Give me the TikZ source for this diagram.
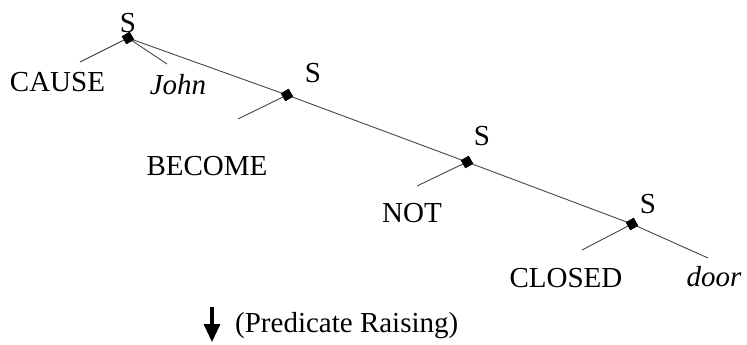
\documentclass[tikz,border=0pt]{standalone}
\usepackage{fontspec}
\setmainfont{Liberation Serif}
\usepackage{tikz}
\usetikzlibrary{arrows.meta}

\begin{document}
\begin{tikzpicture}[x=1pt,y=-1pt,font=\fontsize{29}{34}\selectfont,
  br/.style={draw=gray!55!black,line width=0.9pt},
  knot/.style={rectangle,fill=black,rotate=30,minimum size=9pt,inner sep=0pt},
  lab/.style={anchor=base,inner sep=0pt}]
\useasboundingbox (0,0) rectangle (747,345);
\foreach \n/\x/\y in {s1/128/38,s2/287/95,s3/467/162,s4/632/224}
  \node[knot] (\n) at (\x,\y) {};
\foreach \n/\x/\y in {1/128/33,2/313/83,3/482/145,4/648/213}
  \node[lab] (l\n) at (\x,\y) {S};
\coordinate (e1) at (80,62);
\coordinate (e2) at (167,64);
\coordinate (e3) at (238,119);
\coordinate (e4) at (417,186);
\coordinate (e5) at (582,250);
\coordinate (e6) at (708,258);
\draw[br] (s1.center) -- (s2.center) -- (s3.center) -- (s4.center) -- (e6);
\draw[br] (s1.center) -- (e1);
\draw[br] (s1.center) -- (e2);
\draw[br] (s2.center) -- (e3);
\draw[br] (s3.center) -- (e4);
\draw[br] (s4.center) -- (e5);
\foreach \n in {s1,s2,s3,s4} \node[knot] at (\n) {};
\node[lab] (cause) at (57.5,92) {CAUSE};
\node[lab] (john) at (178,95) {\itshape John};
\node[lab] (become) at (207,175) {BECOME};
\node[lab] (not) at (412,222) {NOT};
\node[lab] (closed) at (566,287) {CLOSED};
\node[lab] (door) at (714,286) {\itshape door};
\coordinate (a1) at (212,307);
\coordinate (a2) at (212,342);
\draw[line width=3.2pt,-{Triangle[width=16pt,length=18pt]}] (a1) -- (a2);
\node[lab,anchor=base west] (rule) at (235,332) {(Predicate Raising)};
\end{tikzpicture}
\end{document}
